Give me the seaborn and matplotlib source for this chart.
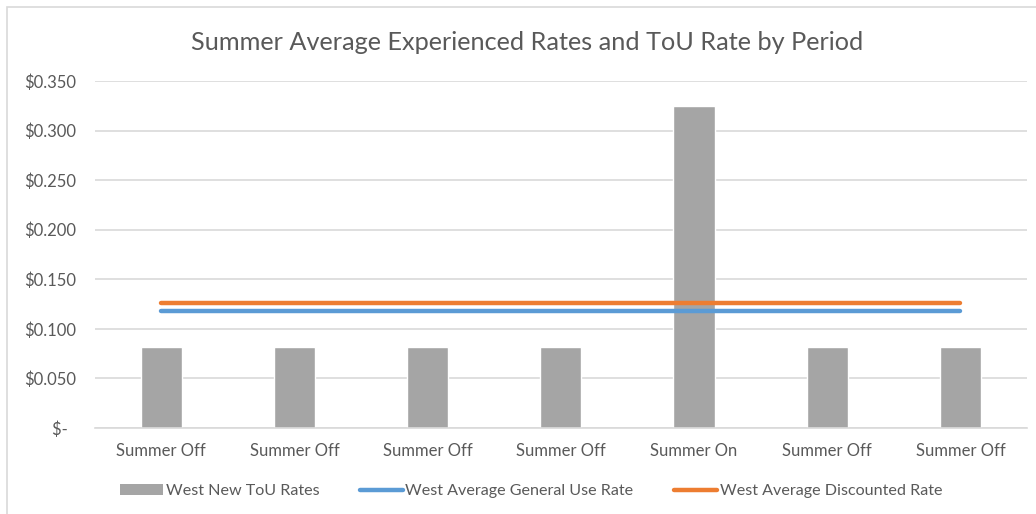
import matplotlib
matplotlib.use("Agg")
import matplotlib.pyplot as plt
import seaborn as sns
import pandas as pd
from matplotlib.patches import Patch, Rectangle
from matplotlib.lines import Line2D
from matplotlib.ticker import FuncFormatter, MultipleLocator

periods = ["Summer Off", "Summer Off", "Summer Off", "Summer Off", "Summer On", "Summer Off", "Summer Off"]
tou_rates = [0.082, 0.082, 0.082, 0.082, 0.325, 0.082, 0.082]
general_use_rate = [0.118, 0.118, 0.118, 0.118, 0.118, 0.118, 0.118]
discounted_rate = [0.126, 0.126, 0.126, 0.126, 0.126, 0.126, 0.126]
title = "Summer Average Experienced Rates and ToU Rate by Period"
series_names = ["West New ToU Rates", "West Average General Use Rate", "West Average Discounted Rate"]

GRAY = "#A5A5A5"
BLUE = "#5B9BD5"
ORANGE = "#ED7D31"
TEXT = "#595959"
GRID = "#D9D9D9"

sns.set_theme(style="white")
plt.rcParams["font.family"] = ["Lato", "DejaVu Sans"]

df = pd.DataFrame({
    "idx": [str(i) for i in range(len(periods))],
    "pos": list(range(len(periods))),
    "tou": tou_rates,
    "gen": general_use_rate,
    "disc": discounted_rate,
})

fig = plt.figure(figsize=(10.36, 5.14), dpi=100)
ax = fig.add_axes([94.6 / 1036, 1 - 428 / 514, (1027 - 94.6) / 1036, (428 - 81) / 514])

sns.barplot(data=df, x="idx", y="tou", color=GRAY, saturation=1, width=0.31, ax=ax, zorder=2)
sns.lineplot(data=df, x="pos", y="gen", color=BLUE, linewidth=3.2, ax=ax, zorder=3,
             solid_capstyle="round")
sns.lineplot(data=df, x="pos", y="disc", color=ORANGE, linewidth=3.2, ax=ax, zorder=3,
             solid_capstyle="round")

ax.set_xlim(-0.5, len(periods) - 0.5)
ax.set_ylim(0, 0.35)
ax.yaxis.set_major_locator(MultipleLocator(0.05))
ax.yaxis.set_major_formatter(FuncFormatter(lambda v, p: "$-  " if abs(v) < 1e-9 else f"${v:.3f}"))
ax.set_xticks(range(len(periods)))
ax.set_xticklabels(periods)
ax.grid(axis="y", color=GRID, linewidth=1.2, zorder=0)
ax.set_axisbelow(True)
for s in ["top", "right", "left"]:
    ax.spines[s].set_visible(False)
ax.spines["bottom"].set_color(GRID)
ax.spines["bottom"].set_linewidth(1.2)
ax.tick_params(axis="both", length=0, colors=TEXT, labelsize=12)
ax.tick_params(axis="y", pad=13)
ax.tick_params(axis="x", pad=10.5)
ax.set_xlabel("")
ax.set_ylabel("")

fig.text(527 / 1036, 1 - 43 / 514, title, ha="center", va="center", fontsize=18.2, color=TEXT)

handles = [
    Patch(facecolor=GRAY, edgecolor="none"),
    Line2D([0], [0], color=BLUE, linewidth=3.2),
    Line2D([0], [0], color=ORANGE, linewidth=3.2),
]
fig.legend(handles, series_names, loc="center", bbox_to_anchor=(531 / 1036, 1 - 491 / 514), ncol=3,
           frameon=False, fontsize=11.6, labelcolor=TEXT, handlelength=2.7, handletextpad=0.15,
           columnspacing=2.5)

fig.patches.append(Rectangle((7 / 1036, -0.1), 1.2, 1 - 7 / 514 + 0.1, transform=fig.transFigure,
                             fill=False, edgecolor=GRID, linewidth=1.2, zorder=0))

fig.savefig("out.png", dpi=100)
